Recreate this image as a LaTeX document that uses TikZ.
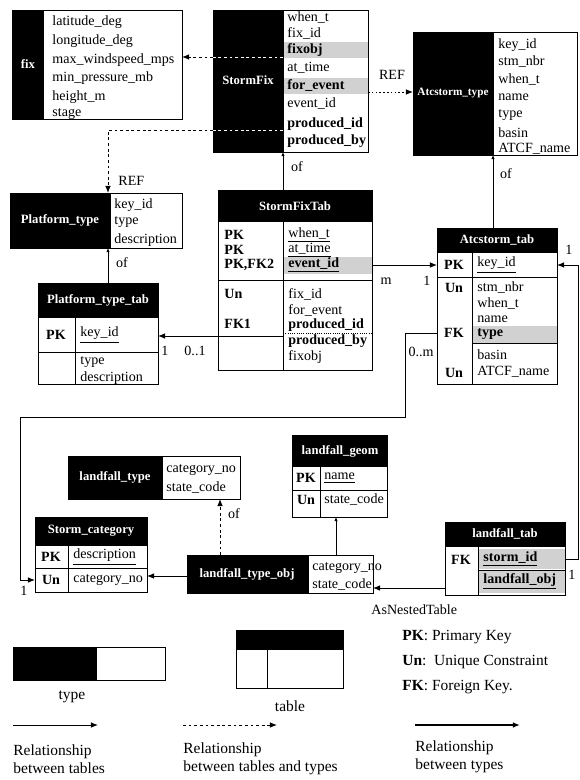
\documentclass[tikz,border=0pt]{standalone}
\usepackage{fontspec}
\setmainfont{Liberation Serif}
\usetikzlibrary{arrows.meta}
\tikzset{
  attr/.style={anchor=west, inner sep=0pt, font=\fontsize{10}{12}\selectfont},
  keyc/.style={inner sep=0pt, font=\bfseries\fontsize{10}{12}\selectfont},
  ttl/.style={text=white, inner sep=0pt, font=\bfseries\fontsize{9}{10}\selectfont},
  lbl/.style={inner sep=0pt, font=\fontsize{10}{12}\selectfont},
  legtext/.style={inner sep=0pt, anchor=west, align=left, font=\fontsize{11}{12.5}\selectfont},
  hatch/.style={fill=black!18},
  rel/.style={-{Latex[length=5pt,width=4pt]}, line width=0.7pt},
  reltype/.style={rel, dash pattern=on 2pt off 2pt},
  refdot/.style={rel, dash pattern=on 1.2pt off 1.5pt},
  ofline/.style={-{Latex[length=3pt,width=2.5pt]}, line width=0.6pt}
}
\begin{document}
\begin{tikzpicture}[x=0.025cm, y=-0.025cm, line width=0.6pt]
		\useasboundingbox (0,0) rectangle (579,780);
		% fix
		\fill (12,10) rectangle (44,119);
		\draw (12,10) rectangle (182,119);
		\node[ttl] (fixT) at (28,64) {fix};
		\node[attr] (fix1) at (52,22) {latitude\_deg};
		\node[attr] (fix2) at (52,41) {longitude\_deg};
		\node[attr] (fix3) at (52,60) {max\_windspeed\_mps};
		\node[attr] (fix4) at (52,78) {min\_pressure\_mb};
		\node[attr] (fix5) at (52,97) {height\_m};
		\node[attr] (fix6) at (52,114) {stage};
		% StormFix
		\fill (213,10) rectangle (283,152);
		\fill[hatch] (283,42) rectangle (368,58);
		\fill[hatch] (283,78) rectangle (368,94);
		\draw (213,10) rectangle (368,152);
		\draw (283,10) -- (283,152);
		\node[ttl] (sfT) at (248,80) {StormFix};
		\node[attr] (sf1) at (287,18) {when\_t};
		\node[attr] (sf2) at (287,33) {fix\_id};
		\node[attr] (sf3) at (287,50) {\textbf{fixobj}};
		\node[attr] (sf4) at (287,68) {at\_time};
		\node[attr] (sf5) at (287,86) {\textbf{for\_event}};
		\node[attr] (sf6) at (287,104) {event\_id};
		\node[attr] (sf7) at (287,124) {\textbf{produced\_id}};
		\node[attr] (sf8) at (287,141) {\textbf{produced\_by}};
		% Atcstorm_type
		\fill (413,32) rectangle (493,155);
		\draw (413,32) rectangle (577,155);
		\draw (493,32) -- (493,155);
		\node[ttl, font=\bfseries\fontsize{8}{9}\selectfont] (atT) at (453,93) {Atcstorm\_type};
		\node[attr] (at1) at (498,45) {key\_id};
		\node[attr] (at2) at (498,62) {stm\_nbr};
		\node[attr] (at3) at (498,80) {when\_t};
		\node[attr] (at4) at (498,97) {name};
		\node[attr] (at5) at (498,115) {type};
		\node[attr] (at6) at (498,133) {basin};
		\node[attr] (at7) at (498,149) {ATCF\_name};
		% Platform_type
		\fill (10,193) rectangle (110,248);
		\draw (10,193) rectangle (182,248);
		\draw (110,193) -- (110,248);
		\node[ttl] (ptT) at (60,220) {Platform\_type};
		\node[attr] (pt1) at (114,205) {key\_id};
		\node[attr] (pt2) at (114,222) {type};
		\node[attr] (pt3) at (114,240) {description};
		% Platform_type_tab
		\fill (38,283) rectangle (158,318);
		\draw (38,283) rectangle (158,384);
		\draw (38,352) -- (158,352);
		\draw (75,318) -- (75,384);
		\node[ttl] (pttT) at (98,300) {Platform\_type\_tab};
		\node[keyc] (pttK1) at (56,335) {PK};
		\node[attr] (ptt1) at (80,335) {\underline{key\_id}};
		\node[attr] (ptt2) at (80,362) {type};
		\node[attr] (ptt3) at (80,378) {description};
		% StormFixTab
		\fill (218,190) rectangle (372,222);
		\fill[hatch] (283,257) rectangle (372,274);
		\draw (218,190) rectangle (372,370);
		\draw (283,222) -- (283,370);
		\draw (218,280) -- (372,280);
		\draw (218,336) -- (283,336);
		\draw[densely dotted] (283,333) -- (372,333);
		\node[ttl] (sftT) at (295,206) {StormFixTab};
		\node[keyc, anchor=west] (sftK1) at (224,235) {PK};
		\node[keyc, anchor=west] (sftK2) at (224,250) {PK};
		\node[keyc, anchor=west] (sftK3) at (224,265) {PK,FK2};
		\node[keyc, anchor=west] (sftK4) at (224,294) {Un};
		\node[keyc, anchor=west] (sftK5) at (224,324) {FK1};
		\node[attr] (sft1) at (288,235) {\underline{when\_t}};
		\node[attr] (sft2) at (288,250) {\underline{at\_time}};
		\node[attr] (sft3) at (288,265) {\textbf{\underline{event\_id}}};
		\node[attr] (sft4) at (288,294) {fix\_id};
		\node[attr] (sft5) at (288,310) {for\_event};
		\node[attr] (sft6) at (288,325) {\textbf{produced\_id}};
		\node[attr] (sft7) at (288,341) {\textbf{produced\_by}};
		\node[attr] (sft8) at (288,357) {fixobj};
		% Atcstorm_tab
		\fill (437,228) rectangle (557,253);
		\fill[hatch] (472,326) rectangle (557,343);
		\draw (437,228) rectangle (557,384);
		\draw (472,253) -- (472,384);
		\draw (437,277) -- (557,277);
		\draw (472,343) -- (557,343);
		\node[ttl] (attT) at (497,240) {Atcstorm\_tab};
		\node[keyc] (attK1) at (454,265) {PK};
		\node[keyc] (attK2) at (454,288) {Un};
		\node[keyc] (attK3) at (454,333) {FK};
		\node[keyc] (attK4) at (454,373) {Un};
		\node[attr] (att1) at (477,265) {\underline{key\_id}};
		\node[attr] (att2) at (477,288) {stm\_nbr};
		\node[attr] (att3) at (477,304) {when\_t};
		\node[attr] (att4) at (477,319) {name};
		\node[attr] (att5) at (477,334) {\textbf{type}};
		\node[attr] (att6) at (477,355) {basin};
		\node[attr] (att7) at (477,372) {ATCF\_name};
		% landfall_type
		\fill (68,456) rectangle (162,499);
		\draw (68,456) rectangle (240,499);
		\draw (162,456) -- (162,499);
		\node[ttl] (ltT) at (115,477) {landfall\_type};
		\node[attr] (lt1) at (166,470) {category\_no};
		\node[attr] (lt2) at (166,488) {state\_code};
		% Storm_category
		\fill (35,517) rectangle (147,546);
		\draw (35,517) rectangle (147,592);
		\draw (35,568) -- (147,568);
		\draw (68,546) -- (68,592);
		\node[ttl] (scT) at (91,531) {Storm\_category};
		\node[keyc] (scK1) at (51,557) {PK};
		\node[keyc] (scK2) at (51,580) {Un};
		\node[attr] (sc1) at (73,557) {\underline{description}};
		\node[attr] (sc2) at (73,580) {category\_no};
		% landfall_geom
		\fill (292,435) rectangle (387,467);
		\draw (292,435) rectangle (387,517);
		\draw (292,490) -- (387,490);
		\draw (320,467) -- (320,517);
		\node[ttl] (lgT) at (340,451) {landfall\_geom};
		\node[keyc] (lgK1) at (306,478) {PK};
		\node[keyc] (lgK2) at (306,500) {Un};
		\node[attr] (lg1) at (324,478) {\underline{name}};
		\node[attr] (lg2) at (324,500) {state\_code};
		% landfall_type_obj
		\fill (187,555) rectangle (308,593);
		\draw (187,555) rectangle (373,593);
		\draw (308,555) -- (308,593);
		\node[ttl] (ltoT) at (247,574) {landfall\_type\_obj};
		\node[attr] (lto1) at (312,568) {category\_no};
		\node[attr] (lto2) at (312,585) {state\_code};
		% landfall_tab
		\fill (445,522) rectangle (565,547);
		\fill[hatch] (478,549) rectangle (565,569);
		\fill[hatch] (478,571) rectangle (565,593);
		\draw (445,522) rectangle (565,595);
		\draw (478,547) -- (478,595);
		\draw (478,570) -- (565,570);
		\node[ttl] (lftT) at (505,534) {landfall\_tab};
		\node[keyc] (lftK1) at (461,560) {FK};
		\node[attr] (lft1) at (483,559) {\textbf{\underline{storm\_id}}};
		\node[attr] (lft2) at (483,581) {\textbf{\underline{landfall\_obj}}};
		% connectors
		\coordinate (sfW1) at (213,57);
		\coordinate (fixE) at (182,57);
		\coordinate (sfW2) at (213,130);
		\coordinate (ptN) at (108,193);
		\coordinate (sfE) at (368,92);
		\coordinate (atW) at (413,92);
		\draw[white, dash pattern=on 2pt off 2pt] (283,57) -- (sfW1);
		\draw[white, dash pattern=on 2pt off 2pt] (283,130) -- (sfW2);
		\draw[reltype] (sfW1) -- (fixE);
		\draw[reltype] (sfW2) -| (ptN);
		\draw[refdot] (sfE) -- (atW);
		\node[lbl, anchor=west] (ref1) at (118,181) {REF};
		\node[lbl] (ref2) at (392,75) {REF};
		\coordinate (sftN) at (283,190);
		\coordinate (sfS) at (283,152);
		\coordinate (attN) at (493,228);
		\coordinate (atS) at (493,155);
		\coordinate (pttN) at (108,283);
		\coordinate (ptS) at (108,248);
		\draw[ofline] (sftN) -- (sfS);
		\draw[ofline] (attN) -- (atS);
		\draw[ofline] (pttN) -- (ptS);
		\node[lbl] (of1) at (297,167) {of};
		\node[lbl] (of2) at (506,174) {of};
		\node[lbl] (of3) at (122,263) {of};
		\coordinate (sftE) at (372,265);
		\coordinate (attW) at (437,265);
		\draw[rel] (sftE) -- (attW);
		\node[lbl] (m1) at (386,281) {m};
		\node[lbl] (n1) at (427,281) {1};
		\coordinate (sftW) at (218,336);
		\coordinate (pttE) at (158,336);
		\draw[rel] (sftW) -- (pttE);
		\node[lbl] (n2) at (165,351) {1};
		\node[lbl] (n3) at (195,351) {0..1};
		\coordinate (attFK) at (437,333);
		\coordinate (scW) at (35,580);
		\draw[rel] (attFK) -- ++(-32,0) |- (20,417) |- (scW);
		\node[lbl] (n4) at (421,352) {0..m};
		\node[lbl] (n5) at (24,591) {1};
		\coordinate (attE) at (557,265);
		\coordinate (lftE) at (565,559);
		\draw[rel] (lftE) -- (578,559) |- (attE);
		\node[lbl] (n6) at (569,250) {1};
		\node[lbl] (n7) at (572,575) {1};
		\coordinate (ltoN) at (220,555);
		\coordinate (ltS) at (220,499);
		\draw[reltype] (ltoN) -- (ltS);
		\node[lbl] (of4) at (234,514) {of};
		\coordinate (ltoW) at (187,576);
		\coordinate (scE) at (147,576);
		\draw[rel] (ltoW) -- (scE);
		\coordinate (ltoN2) at (336,555);
		\coordinate (lgS) at (336,517);
		\draw[ofline] (ltoN2) -- (lgS);
		\coordinate (lftW) at (445,588);
		\coordinate (ltoE) at (373,588);
		\draw[rel] (lftW) -- (ltoE);
		\node[lbl, anchor=west] (nest) at (371,610) {AsNestedTable};
		% legend
		\fill (13,647) rectangle (97,680);
		\draw (13,647) rectangle (165,680);
		\node[lbl, font=\fontsize{11}{13}\selectfont] (lgType) at (72,697) {type};
		\fill (236,630) rectangle (343,650);
		\draw (236,630) rectangle (343,688);
		\draw (267,650) -- (267,688);
		\node[lbl, font=\fontsize{11}{13}\selectfont] (lgTable) at (290,706) {table};
		\node[legtext] (lgPK) at (402,637) {\textbf{PK}: Primary Key};
		\node[legtext] (lgUn) at (402,662) {\textbf{Un}:\ \ Unique Constraint};
		\node[legtext] (lgFK) at (402,687) {\textbf{FK}: Foreign Key.};
		\coordinate (lgA1) at (13,725);
		\coordinate (lgB1) at (98,725);
		\coordinate (lgA2) at (183,725);
		\coordinate (lgB2) at (277,725);
		\coordinate (lgA3) at (415,725);
		\coordinate (lgB3) at (520,725);
		\draw[rel] (lgA1) -- (lgB1);
		\draw[reltype] (lgA2) -- (lgB2);
		\draw[rel, line width=1.2pt] (lgA3) -- (lgB3);
		\node[legtext] (lgR1) at (13,759) {Relationship\\between tables};
		\node[legtext] (lgR2) at (183,759) {Relationship\\between tables and types};
		\node[legtext] (lgR3) at (415,757) {Relationship\\between types};
	\end{tikzpicture}
\end{document}
